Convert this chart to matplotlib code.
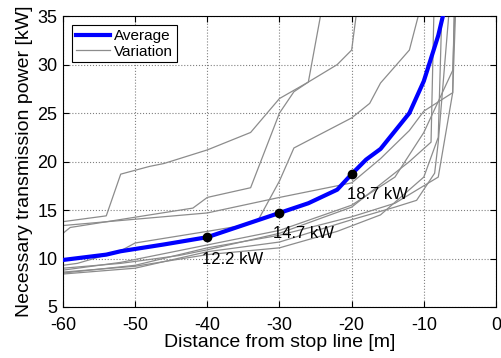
import matplotlib
matplotlib.use("Agg")
import matplotlib.pyplot as plt

plt.rcParams['font.family'] = ['Liberation Sans', 'DejaVu Sans']
plt.rcParams['axes.unicode_minus'] = False

# average curve
avg_x = [-60, -54, -52, -46, -40, -34, -30, -26, -22, -20, -18, -16, -12, -10, -8, -7.2]
avg_y = [9.85, 10.4, 10.75, 11.45, 12.2, 13.7, 14.7, 15.7, 17.1, 18.7, 20.2, 21.3, 25.0, 28.3, 33.0, 35.5]

# marked points
mark_x = [-40, -30, -20]
mark_y = [12.2, 14.7, 18.7]
mark_txt = ["12.2 kW", "14.7 kW", "18.7 kW"]

# variation curves
var_x = [
    [-60, -54, -52, -48, -46, -40, -34, -30, -26, -22, -20, -19.3],
    [-60, -59, -42, -40, -34, -30, -28, -26, -24.2],
    [-60, -40, -30, -22, -20, -16, -12, -10, -6, -5.8],
    [-60, -58, -52, -50, -40, -36, -33, -30, -28, -20, -17.5, -16, -12, -10.6],
    [-60, -52, -40, -30, -20, -14, -10, -6, -5.7],
    [-60, -50, -40, -30, -20, -14, -8, -6, -5.6],
    [-60, -50, -40, -30, -20, -14, -11, -8.5, -8, -6.5],
    [-60, -50, -40, -30, -22, -16, -10, -8, -7.5],
    [-60, -52, -44, -40, -30, -20, -12, -9, -8.6],
]
var_y = [
    [13.8, 14.4, 18.7, 19.5, 19.8, 21.2, 23.0, 26.5, 28.2, 30.0, 31.5, 35.5],
    [12.6, 13.2, 15.2, 16.3, 17.3, 25.0, 27.2, 28.2, 35.5],
    [13.4, 14.7, 16.3, 17.5, 17.8, 20.3, 23.2, 25.2, 27.1, 35.5],
    [9.3, 9.5, 10.8, 11.6, 12.8, 13.3, 13.9, 18.0, 21.4, 24.5, 26.0, 28.1, 31.5, 35.5],
    [8.8, 9.6, 11.4, 12.9, 15.5, 18.4, 23.0, 29.4, 35.5],
    [8.5, 9.3, 11.1, 12.4, 14.3, 15.7, 18.4, 27.1, 35.5],
    [8.4, 9.0, 10.7, 11.7, 14.0, 15.3, 16.0, 18.8, 22.0, 35.5],
    [8.6, 9.2, 10.4, 11.1, 12.8, 14.5, 18.4, 22.5, 35.5],
    [9.0, 9.5, 10.3, 10.9, 12.6, 15.3, 20.0, 22.0, 35.5],
]

fig = plt.figure(figsize=(5.01, 3.58), dpi=100)
ax = fig.add_axes([0.1257, 0.1425, 0.8643, 0.8125])

for i, (xs, ys) in enumerate(zip(var_x, var_y)):
    ax.plot(xs, ys, color=(0.55, 0.55, 0.55), lw=0.9,
            label='Variation' if i == 0 else None, zorder=2)
ax.plot(avg_x, avg_y, color=(0, 0, 1), lw=3, label='Average', zorder=3)
ax.plot(mark_x, mark_y, 'o', color='k', ms=6, zorder=4)

# labels under the marked points
offs = [(-0.8, -2.35), (-0.95, -2.15), (-0.7, -2.15)]
for x, y, t, (dx, dy) in zip(mark_x, mark_y, mark_txt, offs):
    ax.text(x + dx, y + dy, t, fontsize=12, ha='left', va='center', zorder=5)

ax.set_xlim(-60, 0)
ax.set_ylim(5, 35)
ax.set_xticks(range(-60, 1, 10))
ax.set_yticks(range(5, 36, 5))
ax.grid(True, linestyle=':', color='gray', lw=0.8)
ax.tick_params(direction='in', top=True, right=True, labelsize=13, length=4)
ax.tick_params(axis='x', pad=7)
ax.tick_params(axis='y', pad=4)
ax.set_xlabel('Distance from stop line [m]', fontsize=14, labelpad=0)
ax.set_ylabel('Necessary transmission power [kW]', fontsize=14, labelpad=3)

handles, labels = ax.get_legend_handles_labels()
order = [labels.index('Average'), labels.index('Variation')]
leg = ax.legend([handles[i] for i in order], [labels[i] for i in order],
                loc='upper left', fontsize=11, fancybox=False, framealpha=1,
                edgecolor='k', handlelength=2.2, handletextpad=0.3,
                borderpad=0.25, labelspacing=0.1, borderaxespad=0.6)
leg.get_frame().set_linewidth(0.8)

plt.savefig('out.png', dpi=100)
